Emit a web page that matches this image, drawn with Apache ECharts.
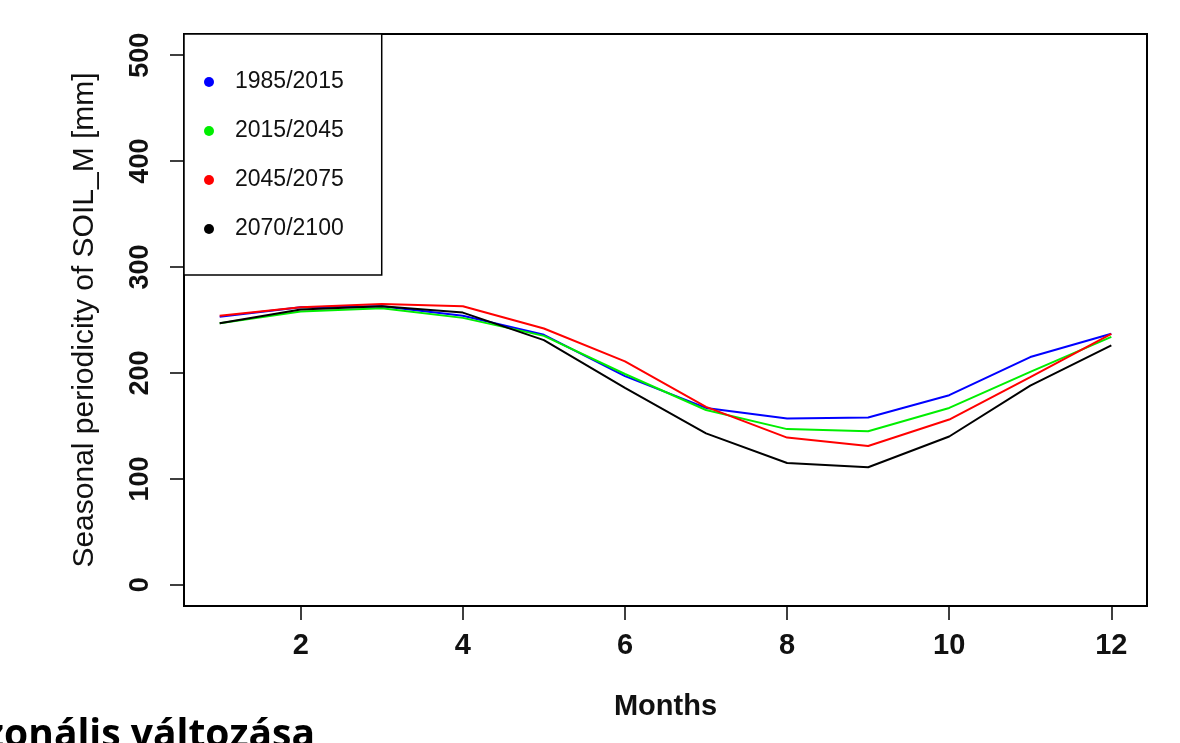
<!DOCTYPE html>
<html>
<head>
<meta charset="utf-8">
<script src="https://cdn.jsdelivr.net/npm/echarts@6/dist/echarts.min.js"></script>
<style>
  html, body { margin: 0; padding: 0; background: #fff; }
  #chart { width: 1180px; height: 743px; }
</style>
</head>
<body>
<div id="chart"></div>
<script>
// adatok (havi atlagok, a kepről leolvasva)
var months = [1, 2, 3, 4, 5, 6, 7, 8, 9, 10, 11, 12];
var periods = ['1985/2015', '2015/2045', '2045/2075', '2070/2100'];
var soil1985 = [253, 262, 263, 254, 236, 197, 167, 157, 158, 179, 215, 237];
var soil2015 = [247, 258, 261, 252, 235, 199, 165, 147, 145, 167, 201, 234];
var soil2045 = [254, 262, 265, 263, 242, 211, 168, 139, 131, 156, 196, 237];
var soil2070 = [247, 260, 263, 257, 231, 186, 143, 115, 111, 140, 188, 226];
var xTicks = [2, 4, 6, 8, 10, 12];
var yTicks = [0, 100, 200, 300, 400, 500];
var colors = ['#0000ff', '#00ee00', '#ff0000', '#000000'];

var chartDom = document.getElementById('chart');
var myChart = echarts.init(chartDom);
var font = '"Liberation Sans", Arial, sans-serif';

function pairs(vals) {
    return months.map(function (m, i) { return [m, vals[i]]; });
}

var allSeries = [soil1985, soil2015, soil2045, soil2070].map(function (vals, i) {
    return {
        name: periods[i],
        type: 'line',
        symbol: 'none',
        data: pairs(vals),
        lineStyle: { color: colors[i], width: 2 },
        itemStyle: { color: colors[i] }
    };
});

var option = {
    animation: false,
    backgroundColor: '#fff',
    grid: {
        left: 184, top: 34, right: 33, bottom: 137,
        show: true, borderColor: '#000', borderWidth: 2, backgroundColor: 'transparent'
    },
    legend: {
        left: 184, top: 34,
        orient: 'vertical',
        icon: 'circle',
        itemWidth: 10, itemHeight: 10,
        itemGap: 25,
        padding: [36, 38, 34, 20],
        borderColor: '#000', borderWidth: 1.5,
        backgroundColor: '#fff',
        data: periods,
        textStyle: { fontFamily: font, fontSize: 23, lineHeight: 24, color: '#111', padding: [0, 0, 0, 16] }
    },
    xAxis: {
        type: 'value',
        min: 0.56, max: 12.44,
        name: 'Months',
        nameLocation: 'middle',
        nameGap: 86,
        nameTextStyle: { fontFamily: font, fontSize: 29, fontWeight: 'bold', color: '#111' },
        axisLine: { show: true, onZero: false, lineStyle: { color: '#000', width: 2 } },
        axisTick: { show: true, length: 14, customValues: xTicks, lineStyle: { color: '#000', width: 1.5 } },
        axisLabel: { customValues: xTicks, margin: 25, fontFamily: font, fontSize: 29, fontWeight: 'bold', color: '#111' },
        splitLine: { show: false }
    },
    yAxis: {
        type: 'value',
        min: -20, max: 520,
        name: 'Seasonal periodicity of SOIL_M [mm]',
        nameLocation: 'middle',
        nameGap: 84,
        nameTextStyle: { fontFamily: font, fontSize: 30, color: '#111' },
        axisLine: { show: true, onZero: false, lineStyle: { color: '#000', width: 2 } },
        axisTick: { show: true, length: 14, customValues: yTicks, lineStyle: { color: '#000', width: 1.5 } },
        axisLabel: { customValues: yTicks, rotate: 90, margin: 30, fontFamily: font, fontSize: 27, fontWeight: 'bold', color: '#111' },
        splitLine: { show: false }
    },
    graphic: [{
        type: 'text',
        right: 865,
        bottom: -12,
        style: {
            text: 'szezonális változása',
            font: 'bold 39px "Open Sans", sans-serif',
            fill: '#000'
        }
    }],
    series: allSeries
};

myChart.setOption(option);

window.addEventListener('resize', function () {
    myChart.resize();
});
</script>
</body>
</html>
